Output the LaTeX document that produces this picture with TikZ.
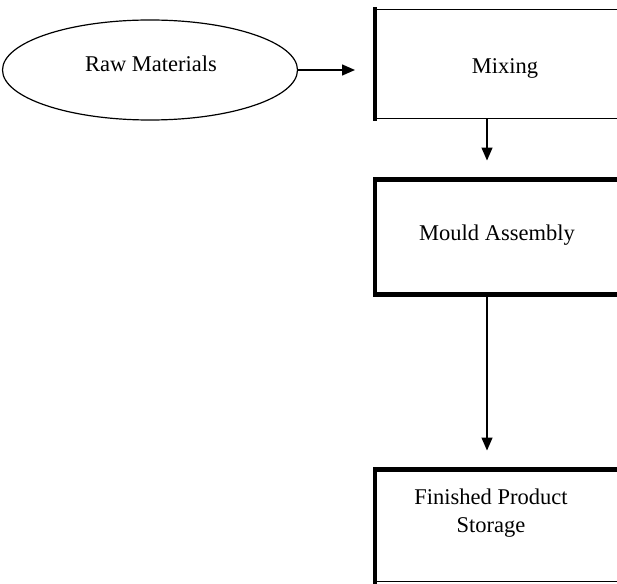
\documentclass[tikz,border=0pt]{standalone}
\usepackage{fontspec}
\setmainfont{Liberation Serif}
\usetikzlibrary{shapes.geometric,arrows.meta}
\tikzset{
  lbl/.style={font=\fontsize{22.5}{28}\selectfont, align=center, inner sep=0pt},
  stagebox/.style={draw, line width=1.2pt, rectangle, anchor=north west, inner sep=0pt},
  heavy/.style={line width=4.5pt, line cap=rect},
  flow/.style={line width=1.4pt, -{Triangle[length=13pt,width=11pt]}},
}
\begin{document}
\begin{tikzpicture}[x=1pt,y=-1pt]
\fill[white] (0,0) rectangle (617,583);
\useasboundingbox (0,0) rectangle (617,583);
\clip (0,0) rectangle (617,583);

% source ellipse
\node[draw, ellipse, line width=1.2pt, minimum width=295pt, minimum height=100pt] (raw) at (150,70) {};
\node[lbl] (rawtxt) at (151,64) {Raw Materials};

% process boxes (their right sides run past the page edge)
\node[stagebox, minimum width=280pt, minimum height=109pt] (mix) at (375,9) {};
\node[stagebox, minimum width=280pt, minimum height=114pt] (mould) at (375,179.5) {};
\node[stagebox, minimum width=280pt, minimum height=111pt] (store) at (375,469.5) {};

% heavy edges
\draw[heavy] (mix.north west) -- (mix.south west);
\draw[heavy] (mould.north east) -- (mould.north west) -- (mould.south west) -- (mould.south east);
\draw[heavy] (store.north east) -- (store.north west) -- (store.south west);

% labels
\node[lbl] (mixtxt) at (505,68) {Mixing};
\node[lbl] (mouldtxt) at (497,235) {Mould Assembly};
\node[lbl] (storetxt) at (491,513) {Finished Product\\Storage};

% connectors
\draw[flow, shorten >=20pt] (raw.east) -- (raw.east -| mix.west);
\draw[flow] ([xshift=112pt]mix.south west) -- ([xshift=112pt, yshift=19pt]mould.north west);
\draw[flow] ([xshift=112pt]mould.south west) -- ([xshift=112pt, yshift=19pt]store.north west);
\end{tikzpicture}
\end{document}
